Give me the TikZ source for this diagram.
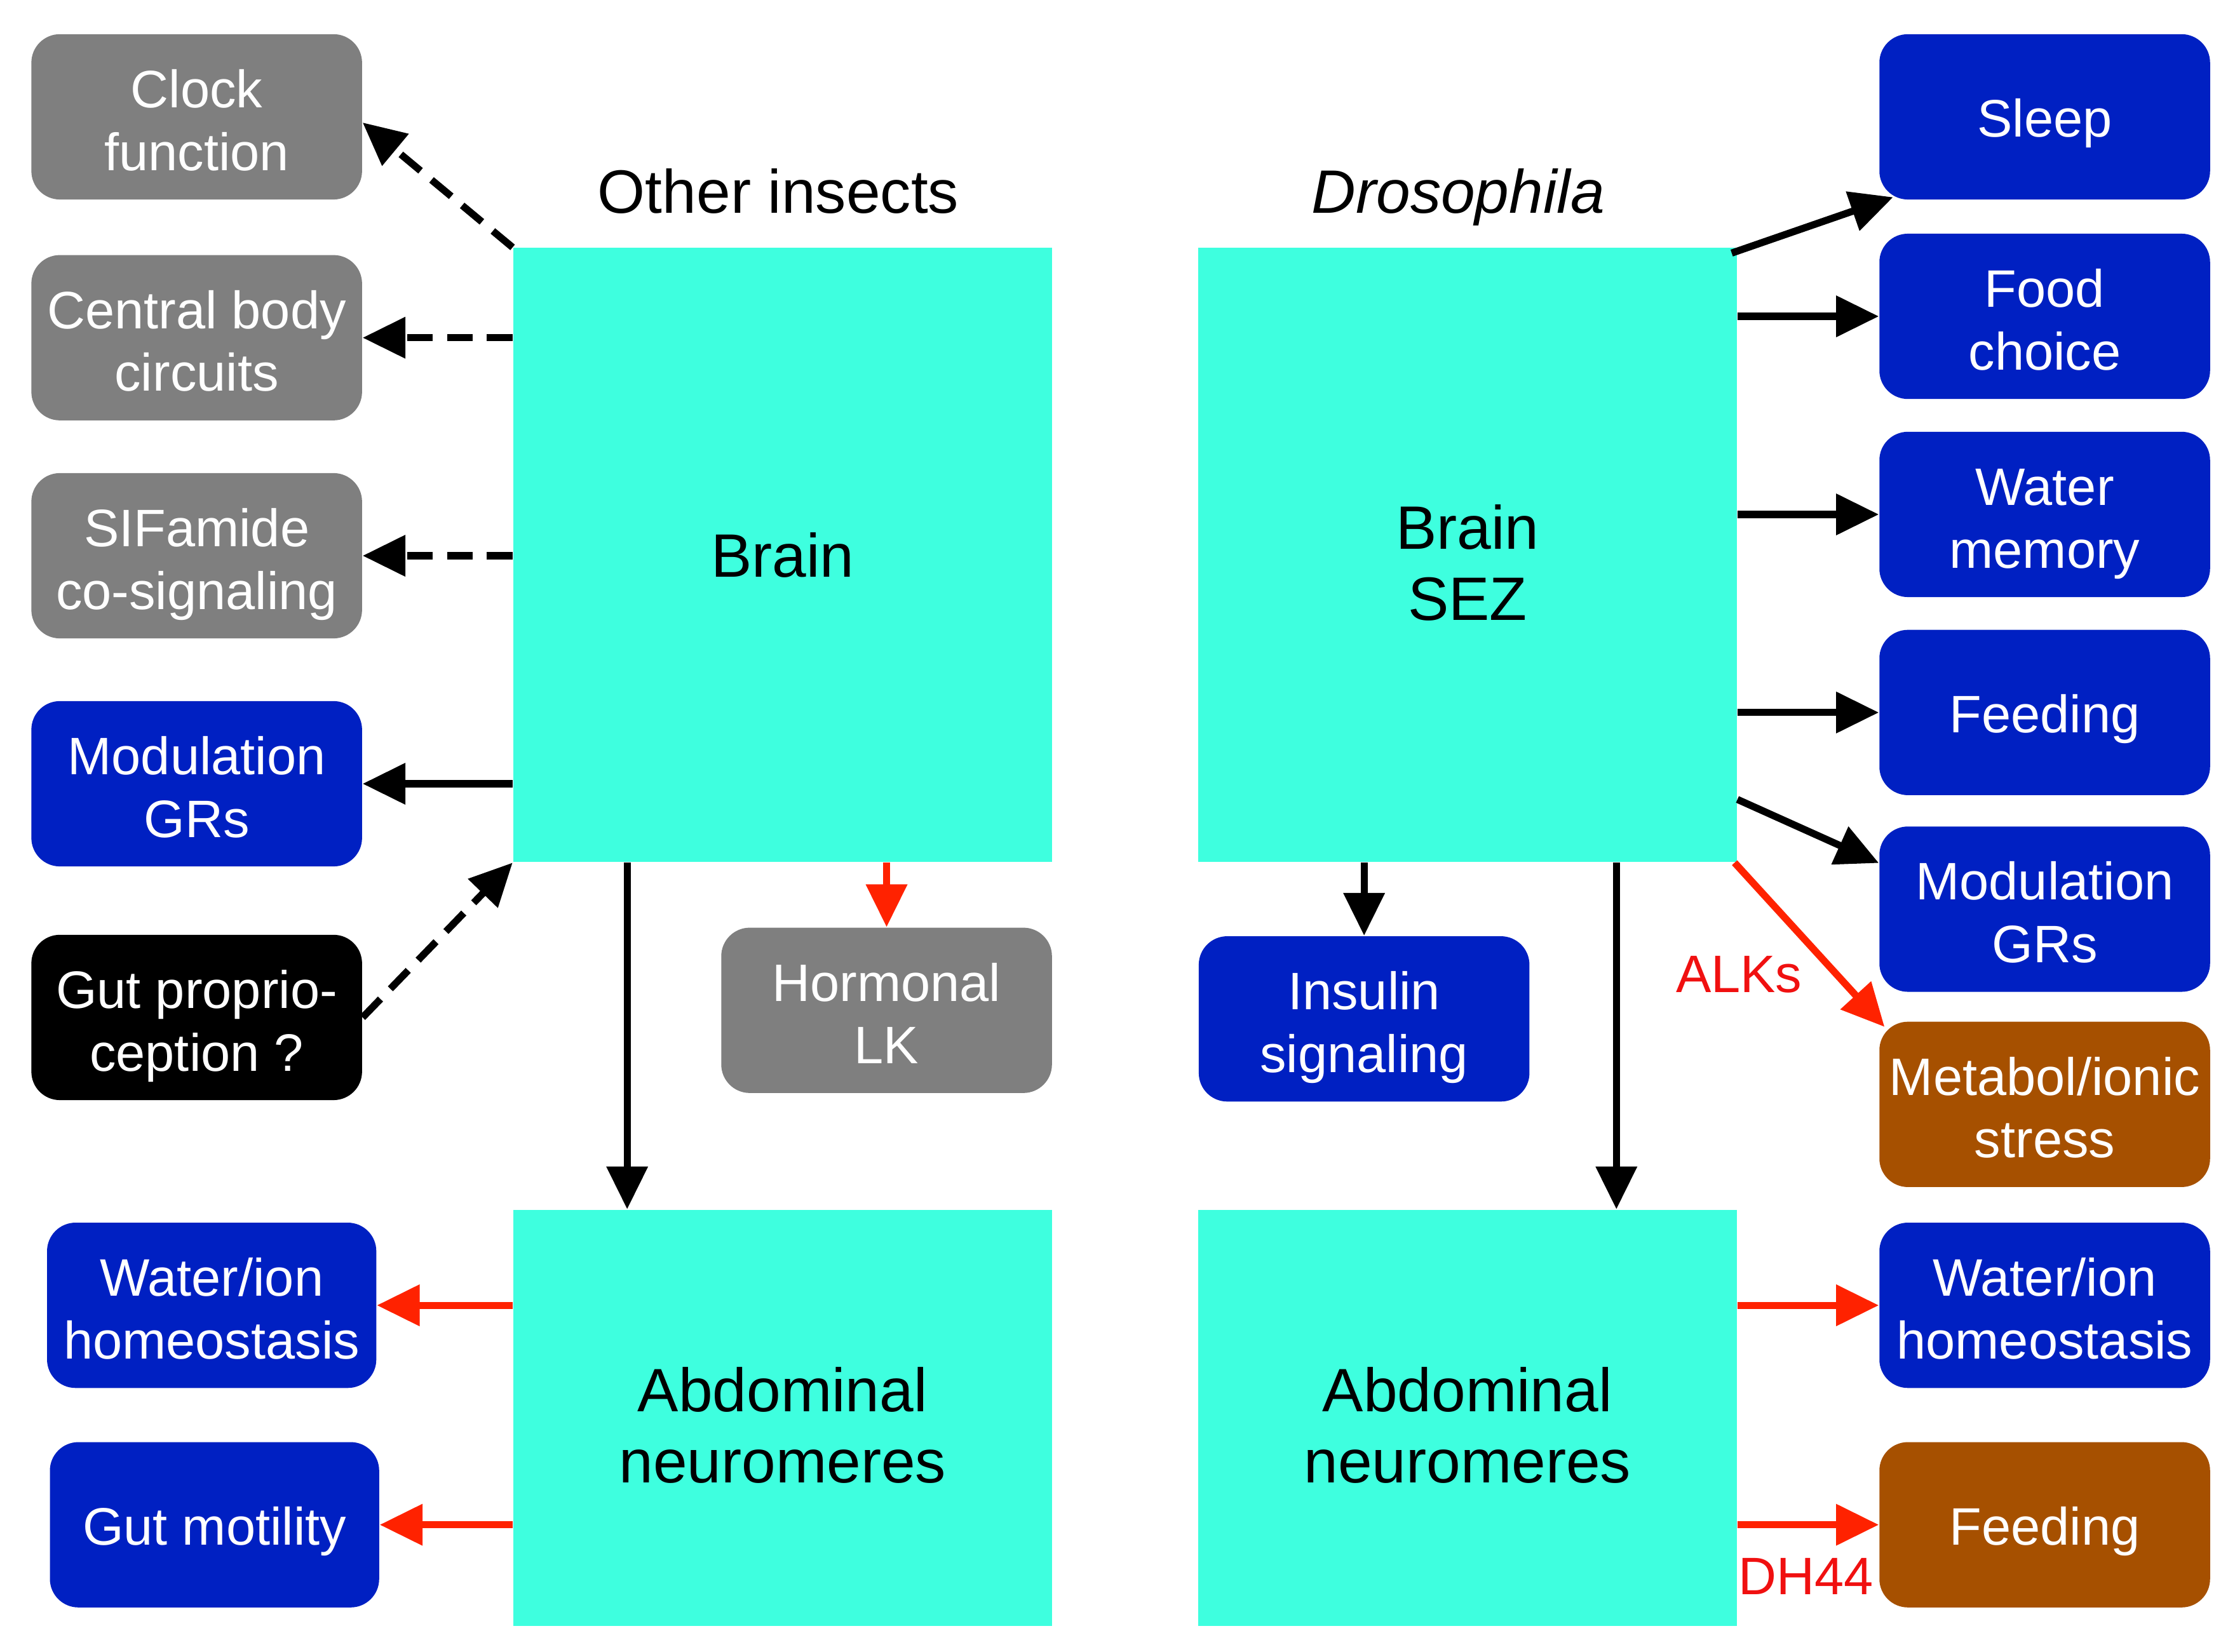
\documentclass[tikz,border=0pt]{standalone}
\usepackage{fontspec}
\setmainfont{Liberation Sans}
\usetikzlibrary{arrows.meta}
\definecolor{cyanc}{HTML}{3EFFDF}
\definecolor{bluec}{HTML}{0020C2}
\definecolor{grayc}{HTML}{7F7F7F}
\definecolor{brownc}{HTML}{A65000}
\definecolor{redc}{HTML}{FF2200}
\definecolor{labred}{HTML}{F01010}
\begin{document}
\begin{tikzpicture}[x=0.5pt,y=-0.5pt,
  boxbase/.style={rectangle,rounded corners=10pt,minimum width=116pt,minimum height=58pt,align=center,text=white,inner sep=0pt,font=\fontsize{18.5pt}{22pt}\selectfont,text height=37.5pt,text depth=0pt},
  oneline/.style={text height=14pt,text depth=0pt},
  graybox/.style={boxbase,fill=grayc},
  bluebox/.style={boxbase,fill=bluec},
  blackbox/.style={boxbase,fill=black},
  brownbox/.style={boxbase,fill=brownc},
  bigbox/.style={rectangle,fill=cyanc,minimum width=189pt,align=center,inner sep=0pt,font=\fontsize{21.5pt}{25pt}\selectfont},
  bigtwo/.style={text height=45.7pt,text depth=0pt},
  title/.style={font=\fontsize{21.5pt}{25pt}\selectfont,inner sep=0pt,text height=15.7pt,text depth=0pt},
  lab/.style={font=\fontsize{18.5pt}{22pt}\selectfont,text=labred,inner sep=0pt},
  arr/.style={line width=2.5pt,-{Triangle[length=15pt,width=14pt]}},
  darr/.style={arr,dash pattern=on 9pt off 5pt},
  rarr/.style={arr,draw=redc}
]
\useasboundingbox (0,0) rectangle (1568,1159);
% titles
\node[title] (toth) at (546,134) {Other insects};
\node[title] (tdro) at (1023,134) {\itshape Drosophila};
% big boxes
\node[bigbox,minimum height=215.5pt] (brain) at (549,389.5) {Brain};
\node[bigbox,bigtwo,minimum height=146pt] (abdL) at (549,995) {Abdominal\\neuromeres};
\node[bigbox,bigtwo,minimum height=215.5pt] (brainR) at (1029.5,389.5) {Brain\\SEZ};
\node[bigbox,bigtwo,minimum height=146pt] (abdR) at (1029.5,995) {Abdominal\\neuromeres};
% left column
\node[graybox] (clock) at (138,82) {Clock\\function};
\node[graybox] (central) at (138,237) {Central body\\circuits};
\node[graybox] (sif) at (138,390) {SIFamide\\co-signaling};
\node[bluebox] (mgrL) at (138,550) {Modulation\\GRs};
\node[blackbox] (gut) at (138,714) {Gut proprio-\\ception ?};
\node[bluebox,minimum width=115.5pt] (wiL) at (148.5,916) {Water/ion\\homeostasis};
\node[bluebox,oneline,minimum width=115.5pt] (gm) at (150.5,1070) {Gut motility};
\node[graybox] (horm) at (622,709) {Hormonal\\LK};
% right side
\node[bluebox] (ins) at (957,715) {Insulin\\signaling};
\node[bluebox,oneline] (sleep) at (1434.5,82) {Sleep};
\node[bluebox] (food) at (1434.5,222) {Food\\choice};
\node[bluebox] (wmem) at (1434.5,361) {Water\\memory};
\node[bluebox,oneline] (feedA) at (1434.5,500) {Feeding};
\node[bluebox] (mgrR) at (1434.5,638) {Modulation\\GRs};
\node[brownbox] (metab) at (1434.5,775) {Metabol/ionic\\stress};
\node[bluebox] (wiR) at (1434.5,916) {Water/ion\\homeostasis};
\node[brownbox,oneline] (feedB) at (1434.5,1070) {Feeding};
% labels
\node[lab] (alks) at (1220,684) {ALKs};
\node[lab] (dh44) at (1267,1106) {DH44};
% left arrows
\draw[darr] (brain.north west) -- ([yshift=-2pt]clock.east);
\draw[darr] (central.east -| brain.west) -- (central.east);
\draw[darr] (sif.east -| brain.west) -- (sif.east);
\draw[arr] (mgrL.east -| brain.west) -- (mgrL.east);
\draw[darr] (gut.east) -- (brain.south west);
\draw[arr] ([xshift=-54.5pt]brain.south) -- ([xshift=-54.5pt]abdL.north);
\draw[rarr] (horm.north |- brain.south) -- (horm.north);
\draw[rarr] (wiL.east -| abdL.west) -- (wiL.east);
\draw[rarr] (gm.east -| abdL.west) -- (gm.east);
% right arrows
\draw[arr] ([xshift=-2pt,yshift=-2pt]brainR.north east) -- ([xshift=5pt,yshift=1pt]sleep.south west);
\draw[arr] (food.west -| brainR.east) -- (food.west);
\draw[arr] (wmem.west -| brainR.east) -- (wmem.west);
\draw[arr] (feedA.west -| brainR.east) -- (feedA.west);
\draw[arr] ([yshift=-85.75pt]brainR.east) -- ([yshift=-13pt]mgrR.north west);
\draw[rarr] ([xshift=-1pt]brainR.south east) -- ([xshift=2pt,yshift=-2pt]metab.north west);
\draw[arr] (ins.north |- brainR.south) -- (ins.north);
\draw[arr] ([xshift=52.25pt]brainR.south) -- ([xshift=52.25pt]abdR.north);
\draw[rarr] (wiR.west -| abdR.east) -- (wiR.west);
\draw[rarr] (feedB.west -| abdR.east) -- (feedB.west);
\end{tikzpicture}
\end{document}
